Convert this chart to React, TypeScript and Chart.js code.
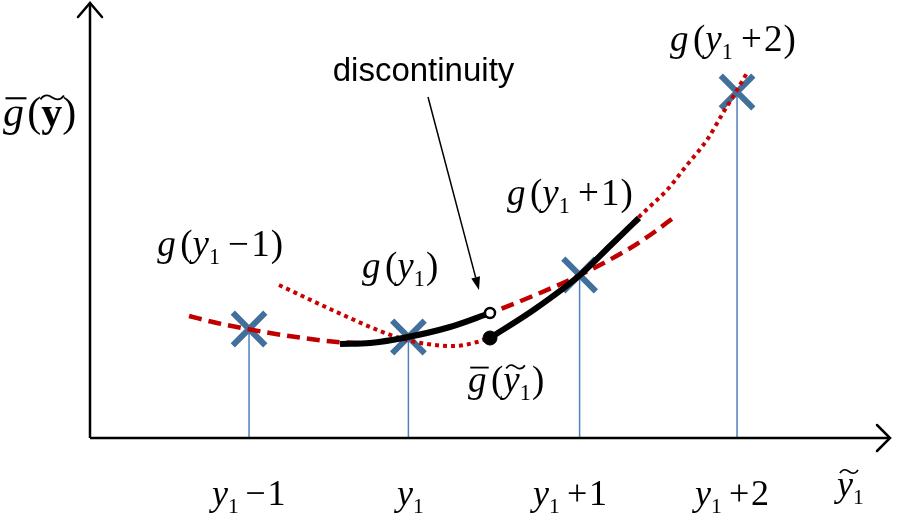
import React, { useEffect, useRef } from "react";
import { Chart, registerables } from "chart.js";

Chart.register(...registerables);

// ---- data (x: units along the y~1 axis, y: units of g) ----
const markX = [0.994, 1.99, 3.06, 4.044];
const markY = [1.09, 1.01, 1.63, 3.46];

const dashedX = [0.619, 0.794, 1.125, 1.331, 1.544, 1.75, 1.956, 2.25, 2.5, 2.8125, 3.0625, 3.356, 3.519, 3.644];
const dashedY = [1.22, 1.15, 1.05, 1.0, 0.96, 0.95, 1.0, 1.11, 1.25, 1.45, 1.63, 1.88, 2.05, 2.2];

const dottedX = [1.181, 1.5, 1.8125, 1.956, 2.106, 2.269, 2.419, 2.5, 2.781, 3.0625, 3.25, 3.456, 3.606, 3.731, 3.856, 3.956, 4.044, 4.106];
const dottedY = [1.53, 1.29, 1.07, 0.99, 0.94, 0.92, 0.96, 1.01, 1.29, 1.63, 1.92, 2.25, 2.48, 2.73, 2.98, 3.25, 3.48, 3.65];

const black1X = [1.5625, 1.75, 1.956, 2.25, 2.5];
const black1Y = [0.94, 0.95, 1.0, 1.11, 1.25];

const black2X = [2.5, 2.781, 3.0625, 3.25, 3.431];
const black2Y = [1.0, 1.29, 1.63, 1.92, 2.2];

const openPoint = { x: 2.5, y: 1.25 };
const filledPoint = { x: 2.5, y: 1.0 };

const axisEndX = 5.0;
const axisEndY = 4.35;

const arrowFrom = { x: 2.1125, y: 3.41 };
const arrowTo = { x: 2.431, y: 1.48 };

const X_MIN = -0.5625;
const X_MAX = 5.05;
const Y_MIN = -0.86;
const Y_MAX = 4.38;

type Run = { t: string; it?: boolean; bold?: boolean; sub?: boolean; gap?: number; acc?: "bar" | "tilde" };
type Label = { runs: Run[]; x: number; y: number; size: number };

const tickLabels: Label[] = [
  { runs: [{ t: "y", it: true }, { t: "1", sub: true }, { t: "\u2212", gap: 0.18 }, { t: "1", gap: 0.05 }], x: 0.763, y: -0.67, size: 36 },
  { runs: [{ t: "y", it: true }, { t: "1", sub: true }], x: 1.919, y: -0.67, size: 36 },
  { runs: [{ t: "y", it: true }, { t: "1", sub: true }, { t: "+", gap: 0.2 }, { t: "1", gap: 0.05 }], x: 2.769, y: -0.67, size: 36 },
  { runs: [{ t: "y", it: true }, { t: "1", sub: true }, { t: "+", gap: 0.2 }, { t: "2", gap: 0.05 }], x: 3.781, y: -0.67, size: 36 },
  { runs: [{ t: "y", it: true, acc: "tilde" }, { t: "1", sub: true }], x: 4.669, y: -0.58, size: 36 },
];

const curveLabels: Label[] = [
  { runs: [{ t: "g", it: true, acc: "bar" }, { t: "(", gap: 0.08 }, { t: "y", bold: true, acc: "tilde" }, { t: ")" }], x: -0.544, y: 3.12, size: 42 },
  { runs: [{ t: "g", it: true }, { t: "(", gap: 0.12 }, { t: "y", it: true }, { t: "1", sub: true }, { t: "\u2212", gap: 0.22 }, { t: "1", gap: 0.06 }, { t: ")", gap: 0.03 }], x: 0.42, y: 1.82, size: 37 },
  { runs: [{ t: "g", it: true }, { t: "(", gap: 0.12 }, { t: "y", it: true }, { t: "1", sub: true }, { t: ")", gap: 0.03 }], x: 1.7, y: 1.6, size: 37 },
  { runs: [{ t: "g", it: true }, { t: "(", gap: 0.12 }, { t: "y", it: true }, { t: "1", sub: true }, { t: "+", gap: 0.22 }, { t: "1", gap: 0.06 }, { t: ")", gap: 0.03 }], x: 2.606, y: 2.33, size: 37 },
  { runs: [{ t: "g", it: true }, { t: "(", gap: 0.12 }, { t: "y", it: true }, { t: "1", sub: true }, { t: "+", gap: 0.22 }, { t: "2", gap: 0.06 }, { t: ")", gap: 0.03 }], x: 3.625, y: 3.87, size: 37 },
  { runs: [{ t: "g", it: true, acc: "bar" }, { t: "(", gap: 0.12 }, { t: "y", it: true, acc: "tilde" }, { t: "1", sub: true }, { t: ")", gap: 0.03 }], x: 2.3625, y: 0.46, size: 37 },
];

const noteText = "discontinuity";
const notePos = { x: 1.517, y: 3.57 };

function drawRuns(ctx: CanvasRenderingContext2D, runs: Run[], x: number, y: number, size: number) {
  let cx = x;
  ctx.textBaseline = "alphabetic";
  ctx.textAlign = "left";
  for (const r of runs) {
    cx += (r.gap ?? 0) * size;
    const s = r.sub ? size * 0.6 : size;
    ctx.font = `${r.it ? "italic " : ""}${r.bold ? "bold " : ""}${s}px "Liberation Serif", "Times New Roman", serif`;
    const dy = r.sub ? size * 0.22 : 0;
    ctx.fillStyle = "#000";
    ctx.fillText(r.t, cx, y + dy);
    const w = ctx.measureText(r.t).width;
    if (r.acc === "bar") {
      ctx.save();
      ctx.strokeStyle = "#000";
      ctx.lineWidth = size * 0.05;
      ctx.beginPath();
      const by = y - size * 0.66;
      ctx.moveTo(cx + size * 0.06, by);
      ctx.lineTo(cx + w + size * 0.06, by);
      ctx.stroke();
      ctx.restore();
    }
    if (r.acc === "tilde") {
      ctx.save();
      ctx.strokeStyle = "#000";
      ctx.lineWidth = size * 0.045;
      const x0 = cx + (r.it ? size * 0.08 : -size * 0.02);
      const tw = w + size * 0.06;
      const y0 = y - size * 0.68;
      const th = size * 0.09;
      ctx.beginPath();
      ctx.moveTo(x0, y0 + th * 0.5);
      ctx.bezierCurveTo(x0 + tw * 0.2, y0 - th * 1.2, x0 + tw * 0.4, y0 - th * 0.4, x0 + tw * 0.5, y0);
      ctx.bezierCurveTo(x0 + tw * 0.6, y0 + th * 0.4, x0 + tw * 0.8, y0 + th * 1.2, x0 + tw, y0 - th * 0.5);
      ctx.stroke();
      ctx.restore();
    }
    cx += w;
  }
}

const decorPlugin = {
  id: "decor",
  afterDatasetsDraw(chart: any) {
    const ctx: CanvasRenderingContext2D = chart.ctx;
    const xs = chart.scales.x;
    const ys = chart.scales.y;
    const px = (v: number) => xs.getPixelForValue(v);
    const py = (v: number) => ys.getPixelForValue(v);
    ctx.save();
    // axes
    ctx.strokeStyle = "#000";
    ctx.lineWidth = 2.5;
    ctx.lineCap = "butt";
    const ox = px(0), oy = py(0);
    ctx.beginPath();
    ctx.moveTo(ox, oy);
    ctx.lineTo(px(axisEndX), oy);
    ctx.moveTo(ox, oy);
    ctx.lineTo(ox, py(axisEndY));
    ctx.stroke();
    // chevrons
    ctx.lineCap = "round";
    ctx.beginPath();
    const tx = px(axisEndX);
    ctx.moveTo(tx - 13, oy - 13);
    ctx.lineTo(tx, oy);
    ctx.lineTo(tx - 13, oy + 13);
    const ty = py(axisEndY);
    ctx.moveTo(ox - 12, ty + 14);
    ctx.lineTo(ox, ty);
    ctx.lineTo(ox + 12, ty + 14);
    ctx.stroke();

    // annotation arrow
    const ax0 = px(arrowFrom.x), ay0 = py(arrowFrom.y);
    const ax1 = px(arrowTo.x), ay1 = py(arrowTo.y);
    const ang = Math.atan2(ay1 - ay0, ax1 - ax0);
    const hl = 13, hw = 4.5;
    ctx.lineWidth = 1.5;
    ctx.lineCap = "butt";
    ctx.beginPath();
    ctx.moveTo(ax0, ay0);
    ctx.lineTo(ax1 - Math.cos(ang) * hl, ay1 - Math.sin(ang) * hl);
    ctx.stroke();
    ctx.fillStyle = "#000";
    ctx.beginPath();
    ctx.moveTo(ax1, ay1);
    ctx.lineTo(ax1 - Math.cos(ang) * hl - Math.sin(ang) * hw, ay1 - Math.sin(ang) * hl + Math.cos(ang) * hw);
    ctx.lineTo(ax1 - Math.cos(ang) * hl + Math.sin(ang) * hw, ay1 - Math.sin(ang) * hl - Math.cos(ang) * hw);
    ctx.closePath();
    ctx.fill();

    // texts
    for (const l of [...tickLabels, ...curveLabels]) {
      drawRuns(ctx, l.runs, px(l.x), py(l.y), l.size);
    }
    ctx.font = '33px "Liberation Sans", Arial, sans-serif';
    ctx.fillStyle = "#000";
    ctx.textAlign = "left";
    ctx.textBaseline = "alphabetic";
    ctx.fillText(noteText, px(notePos.x), py(notePos.y));
    ctx.restore();
  },
};

const zip = (xs: number[], ys: number[]) => xs.map((x, i) => ({ x, y: ys[i] }));

export default function App() {
  const ref = useRef<HTMLCanvasElement | null>(null);
  useEffect(() => {
    if (!ref.current) return;
    const blueLines = markX.map((x, i) => ({
      type: "line" as const,
      data: [{ x, y: 0 }, { x, y: markY[i] }],
      borderColor: "#4f81bd",
      borderWidth: 1.5,
      pointRadius: 0,
      order: 6,
    }));
    const chart = new Chart(ref.current, {
      type: "line",
      data: {
        datasets: [
          ...blueLines,
          {
            type: "scatter" as const,
            data: zip(markX, markY),
            pointStyle: "crossRot",
            pointRadius: 23,
            pointBorderWidth: 6,
            pointBorderColor: "#41709c",
            borderColor: "#41709c",
            showLine: false,
            order: 5,
          } as any,
          {
            data: zip(dashedX, dashedY),
            borderColor: "#c00000",
            borderWidth: 4.5,
            borderDash: [13, 7],
            cubicInterpolationMode: "monotone",
            pointRadius: 0,
            order: 4,
          },
          {
            data: zip(dottedX, dottedY),
            borderColor: "#c80000",
            borderWidth: 4,
            borderDash: [4, 4],
            cubicInterpolationMode: "monotone",
            pointRadius: 0,
            order: 3,
          },
          {
            data: zip(black1X, black1Y),
            borderColor: "#000",
            borderWidth: 6,
            cubicInterpolationMode: "monotone",
            pointRadius: 0,
            order: 2,
          },
          {
            data: zip(black2X, black2Y),
            borderColor: "#000",
            borderWidth: 6,
            cubicInterpolationMode: "monotone",
            pointRadius: 0,
            order: 2,
          },
          {
            type: "scatter" as const,
            data: [openPoint],
            pointRadius: 5,
            pointBackgroundColor: "#fff",
            pointBorderColor: "#000",
            pointBorderWidth: 2.5,
            order: 0,
          } as any,
          {
            type: "scatter" as const,
            data: [filledPoint],
            pointRadius: 7,
            pointBackgroundColor: "#000",
            pointBorderColor: "#000",
            pointBorderWidth: 1,
            order: 0,
          } as any,
        ],
      },
      options: {
        responsive: false,
        animation: false,
        devicePixelRatio: 1,
        layout: { padding: 0, autoPadding: false } as any,
        scales: {
          x: { type: "linear", min: X_MIN, max: X_MAX, display: false },
          y: { type: "linear", min: Y_MIN, max: Y_MAX, display: false },
        },
        plugins: { legend: { display: false }, tooltip: { enabled: false } },
      },
      plugins: [decorPlugin],
    });
    return () => chart.destroy();
  }, []);
  return (
    <div style={{ position: "fixed", left: 0, top: 0, width: 898, height: 524, background: "#fff" }}>
      <canvas ref={ref} width={898} height={524} style={{ width: 898, height: 524, display: "block" }} />
    </div>
  );
}
